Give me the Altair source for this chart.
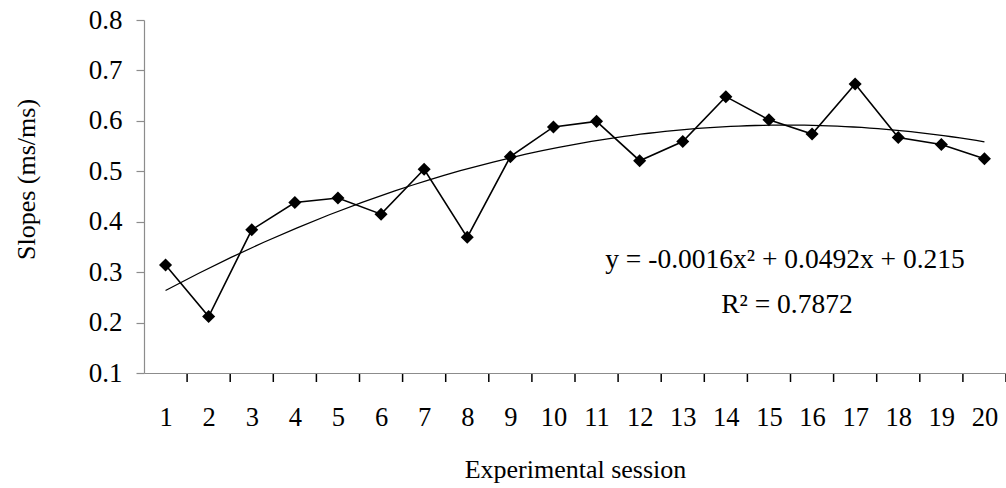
import altair as alt
import pandas as pd

sessions = list(range(1, 21))
slopes = [0.314, 0.212, 0.384, 0.438, 0.447, 0.415, 0.504, 0.369, 0.529, 0.588,
          0.599, 0.521, 0.559, 0.648, 0.602, 0.574, 0.673, 0.567, 0.553, 0.525]
boundaries = [1.5, 2.5, 3.5, 4.5, 5.5, 6.5, 7.5, 8.5, 9.5, 10.5,
              11.5, 12.5, 13.5, 14.5, 15.5, 16.5, 17.5, 18.5, 19.5, 20.5]
y_ticks = [0.1, 0.2, 0.3, 0.4, 0.5, 0.6, 0.7, 0.8]
eq_line1 = "y = -0.0016x² + 0.0492x + 0.215"
eq_line2 = "R² = 0.7872"

FONT = "Liberation Serif"
W, H = 862, 353

df = pd.DataFrame({"session": sessions, "slope": slopes})
bdf = pd.DataFrame({"b": boundaries})

xscale = alt.Scale(domain=[0.5, 20.5], nice=False, zero=False)
yscale = alt.Scale(domain=[0.1, 0.8], nice=False, zero=False)

xaxis = alt.Axis(values=sessions, ticks=False, grid=False, domainColor="#8c8c8c",
                 domainWidth=1.2, labelFont=FONT, labelFontSize=26.5, labelColor="black",
                 labelPadding=31, labelFlush=False,
                 title="Experimental session", titleFont=FONT, titleFontSize=26,
                 titleFontWeight="normal", titleColor="black",
                 titleY=104, titleBaseline="alphabetic")
yaxis = alt.Axis(values=y_ticks, format=".1f", grid=False, domainColor="#8c8c8c",
                 domainWidth=1.2, tickColor="#8c8c8c", tickSize=8, tickWidth=1.2,
                 labelFont=FONT, labelFontSize=27, labelColor="black", labelPadding=14,
                 title="Slopes (ms/ms)", titleFont=FONT, titleFontSize=26,
                 titleFontWeight="normal", titleColor="black",
                 titleAngle=-90, titleX=-118, titleY=159, titleBaseline="middle",
                 titleAlign="center")

base = alt.Chart(df)

line = base.mark_line(color="black", strokeWidth=1.6).encode(
    x=alt.X("session:Q", scale=xscale, axis=xaxis),
    y=alt.Y("slope:Q", scale=yscale, axis=yaxis),
)
points = base.mark_point(shape="diamond", filled=True, color="black", size=170, opacity=1).encode(
    x=alt.X("session:Q", scale=xscale),
    y=alt.Y("slope:Q", scale=yscale),
)
trend = base.transform_regression(
    "session", "slope", method="poly", order=2, extent=[1, 20]
).mark_line(color="black", strokeWidth=1.3).encode(
    x=alt.X("session:Q", scale=xscale),
    y=alt.Y("slope:Q", scale=yscale),
)
ticks = alt.Chart(bdf).mark_rule(color="black", strokeWidth=1.5).encode(
    x=alt.X("b:Q", scale=xscale),
    y=alt.value(H + 1),
    y2=alt.value(H + 9),
)
eq1 = alt.Chart(pd.DataFrame({"t": [eq_line1]})).mark_text(
    font=FONT, fontSize=27.5, color="black", align="center", baseline="alphabetic"
).encode(text="t:N", x=alt.value(641), y=alt.value(248))
eq2 = alt.Chart(pd.DataFrame({"t": [eq_line2]})).mark_text(
    font=FONT, fontSize=27.5, color="black", align="center", baseline="alphabetic"
).encode(text="t:N", x=alt.value(643), y=alt.value(293))

chart = alt.layer(line, trend, points, ticks, eq1, eq2).properties(
    width=W, height=H,
    autosize=alt.AutoSizeParams(type="none"),
    padding={"left": 144, "top": 20, "right": 0, "bottom": 115},
    background="white",
).configure_view(stroke=None)

chart.save("out.html", embed_options={"renderer": "svg", "actions": False})
